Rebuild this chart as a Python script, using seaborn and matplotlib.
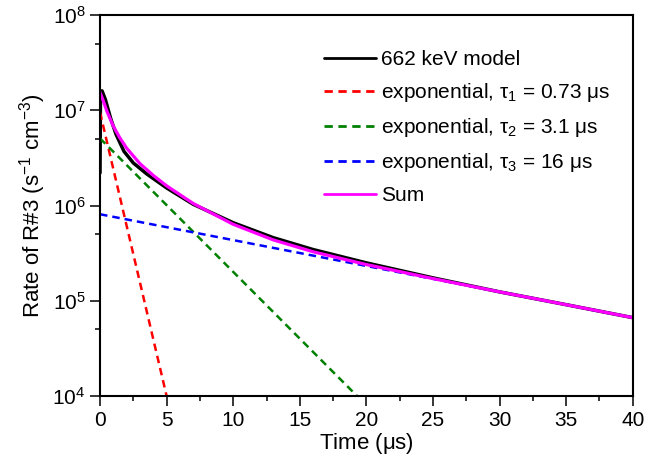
import numpy as np
import pandas as pd
import matplotlib
matplotlib.use("Agg")
import matplotlib.pyplot as plt
import matplotlib.ticker as mticker
import seaborn as sns

# values
model_t = [0.0, 0.03, 0.15, 0.4, 0.8, 1.2, 1.8, 2.5, 3.5, 5.0, 7.0, 10.0, 13.0, 16.0, 20.0, 25.0, 30.0, 35.0, 40.0]
model_rate = [2.2e6, 1.2e7, 1.6e7, 1.3e7, 8.2e6, 5.6e6, 3.7e6, 2.8e6, 2.15e6, 1.53e6, 1.03e6, 6.6e5, 4.6e5, 3.45e5, 2.5e5, 1.74e5, 1.24e5, 9.1e4, 6.65e4]

exp1_t = [0.0, 5.0]
exp1_rate = [9.5e6, 1e4]
exp2_t = [0.0, 19.3]
exp2_rate = [5.07e6, 1e4]
exp3_t = [0.0, 40.0]
exp3_rate = [8.1e5, 6.65e4]

sum_t = [0.0, 0.25, 0.5, 1.0, 1.5, 2.0, 3.0, 4.0, 5.0, 7.0, 10.0, 13.0, 16.0, 20.0, 25.0, 30.0, 35.0, 40.0]
sum_rate = [1.54e7, 1.25e7, 9.9e6, 6.8e6, 5.1e6, 4.0e6, 2.75e6, 2.07e6, 1.61e6, 1.05e6, 6.35e5, 4.36e5, 3.27e5, 2.4e5, 1.71e5, 1.24e5, 9.1e4, 6.65e4]

labels = ["662 keV model",
          r"exponential, $\tau_1$ = 0.73 $\mu$s",
          r"exponential, $\tau_2$ = 3.1 $\mu$s",
          r"exponential, $\tau_3$ = 16 $\mu$s",
          "Sum"]

sns.set_style("ticks")
plt.rcParams["font.family"] = ["Liberation Sans", "DejaVu Sans"]
plt.rcParams["mathtext.fontset"] = "custom"
plt.rcParams["mathtext.rm"] = "Liberation Sans"
plt.rcParams["mathtext.it"] = "Liberation Sans"
plt.rcParams["mathtext.bf"] = "Liberation Sans:bold"
plt.rcParams["text.color"] = "black"
plt.rcParams["axes.labelcolor"] = "black"
plt.rcParams["xtick.color"] = "black"
plt.rcParams["ytick.color"] = "black"

fig = plt.figure(figsize=(6.47, 4.70), dpi=100)
ax = fig.add_axes([0.1546, 0.1574, 0.8234, 0.8106])

dash = (3, 2)
sns.lineplot(x=model_t, y=model_rate, color="black", lw=2.5, label=labels[0], ax=ax)
sns.lineplot(x=exp1_t, y=exp1_rate, color="#ff0000", lw=1.8, label=labels[1], ax=ax)
sns.lineplot(x=exp2_t, y=exp2_rate, color="#008000", lw=1.8, label=labels[2], ax=ax)
sns.lineplot(x=exp3_t, y=exp3_rate, color="#0000ff", lw=1.8, label=labels[3], ax=ax)
sns.lineplot(x=sum_t, y=sum_rate, color="#ff00ff", lw=2.3, label=labels[4], ax=ax)
for ln in ax.lines[1:4]:
    ln.set_dashes(dash)

ax.set_yscale("log")
ax.set_xlim(0, 40)
ax.set_ylim(1e4, 1e8)
ax.xaxis.set_major_locator(mticker.MultipleLocator(5))
ax.xaxis.set_minor_locator(mticker.MultipleLocator(2.5))
ax.yaxis.set_major_locator(mticker.LogLocator(base=10, numticks=10))
ax.yaxis.set_minor_locator(mticker.LogLocator(base=10, subs=[5], numticks=10))
ax.yaxis.set_minor_formatter(mticker.NullFormatter())

ax.tick_params(which="major", direction="out", length=7, width=1.1, labelsize=15, top=False, right=False)
ax.tick_params(which="minor", direction="out", length=3.5, width=1.1, top=False, right=False)
for s in ax.spines.values():
    s.set_linewidth(1.5)
    s.set_color("black")

ax.set_xlabel(r"Time ($\mu$s)", fontsize=16, labelpad=1)
ax.set_ylabel(r"Rate of R#3 (s$^{-1}$ cm$^{-3}$)", fontsize=16, labelpad=3)

leg = ax.legend(loc="upper left", bbox_to_anchor=(0.405, 0.93), frameon=False,
                fontsize=15, handlelength=2.5, handletextpad=0.25, labelspacing=0.58,
                borderaxespad=0)
for h in leg.get_lines():
    h.set_linewidth(2.0)

fig.savefig("out.png", dpi=100)
